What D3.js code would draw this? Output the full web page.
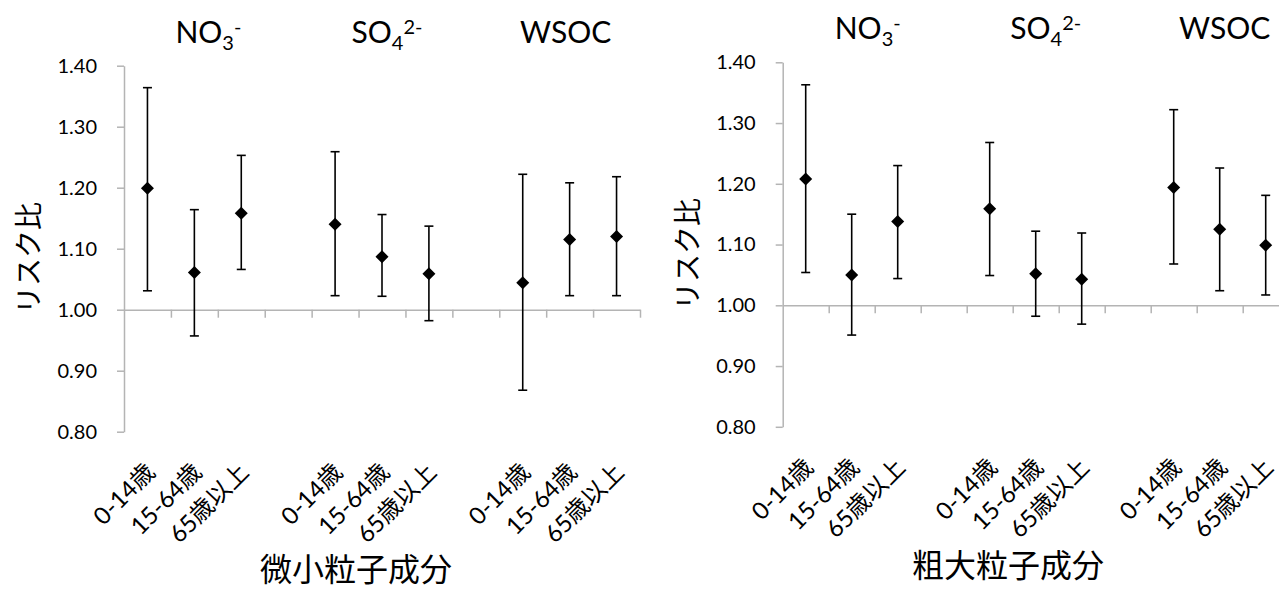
<!DOCTYPE html>
<html>
<head>
<meta charset="utf-8">
<script src="https://cdn.jsdelivr.net/npm/d3@7"></script>
<style>
	body { margin: 0; background: #ffffff; }
	.lat { font-family: Lato, "Noto Sans CJK JP", sans-serif; }
	.cjk { font-family: "Noto Sans CJK JP", sans-serif; }
</style>
</head>
<body>
<div id="chart"></div>
<script>
// categories
var groups = ["NO3", "SO4", "WSOC"];
var ageLabels = ["0-14歳", "15-64歳", "65歳以上"];
var yTicks = [0.80, 0.90, 1.00, 1.10, 1.20, 1.30, 1.40];

// fine particle components (risk ratio, lower / upper 95% CI)
var fineEst = [1.199, 1.061, 1.158, 1.140, 1.087, 1.059, 1.044, 1.115, 1.120];
var fineLow = [1.031, 0.957, 1.066, 1.023, 1.022, 0.982, 0.868, 1.023, 1.023];
var fineHigh = [1.364, 1.164, 1.253, 1.259, 1.156, 1.137, 1.222, 1.208, 1.218];

// coarse particle components
var coarseEst = [1.208, 1.050, 1.138, 1.159, 1.052, 1.043, 1.194, 1.125, 1.099];
var coarseLow = [1.054, 0.951, 1.044, 1.049, 0.982, 0.969, 1.068, 1.024, 1.017];
var coarseHigh = [1.363, 1.150, 1.230, 1.268, 1.122, 1.119, 1.322, 1.226, 1.181];

var yTitle = "リスク比";
var fineTitle = "微小粒子成分";
var coarseTitle = "粗大粒子成分";

var axisColor = "#b4b4b4";

function buildSlots() {
	// three age classes per component, one empty slot between components
	var slots = [];
	groups.forEach(function (g, gi) {
		if (gi > 0) slots.push("gap" + gi);
		ageLabels.forEach(function (a) { slots.push(g + "|" + a); });
	});
	return slots;
}

function drawGroupTitle(g, name, x, y) {
	var t = g.append("text").attr("class", "lat").attr("x", x).attr("y", y)
		.attr("text-anchor", "middle").attr("font-size", 30).attr("fill", "#000");
	if (name == "NO3") {
		t.append("tspan").text("NO");
		t.append("tspan").attr("font-size", 20).attr("dy", 7).text("3");
		t.append("tspan").attr("font-size", 20).attr("dy", -16).text("-");
	} else if (name == "SO4") {
		t.append("tspan").text("SO");
		t.append("tspan").attr("font-size", 20).attr("dy", 7).text("4");
		t.append("tspan").attr("font-size", 20).attr("dy", -16).text("2-");
	} else {
		t.text(name);
	}
}

function drawPanel(svg, p, est, low, high, title) {
	try {
		var slots = buildSlots();
		var x = d3.scaleBand().domain(slots).range([p.x0, p.x1]).paddingInner(0).paddingOuter(0);
		var xi = d3.scaleLinear().domain([0, slots.length]).range([p.x0, p.x1]);
		var y = d3.scaleLinear().domain([0.80, 1.40]).range([p.yBot, p.yTop]);
		var g = svg.append("g");

		// y axis
		var ya = g.append("g").attr("transform", "translate(" + p.x0 + ",0)")
			.call(d3.axisLeft(y).tickValues(yTicks).tickFormat(d3.format(".2f"))
				.tickSize(7).tickSizeOuter(0).tickPadding(20));
		ya.select(".domain").attr("stroke", axisColor).attr("stroke-width", 1.5);
		ya.selectAll(".tick line").attr("stroke", axisColor).attr("stroke-width", 1.5);
		ya.selectAll(".tick text").attr("class", "lat").attr("font-size", 20).attr("fill", "#000");

		// x axis at 1.00, tick marks on the category boundaries
		var xa = g.append("g").attr("transform", "translate(0," + y(1.00) + ")")
			.call(d3.axisBottom(xi).tickValues(d3.range(1, slots.length + 1))
				.tickFormat("").tickSize(8).tickSizeOuter(0));
		xa.select(".domain").attr("stroke", axisColor).attr("stroke-width", 1.5);
		xa.selectAll(".tick line").attr("stroke", axisColor).attr("stroke-width", 1.5);

		// category labels, rotated
		var keys = slots.filter(function (s) { return s.indexOf("|") > 0; });
		g.selectAll(".age").data(keys).enter().append("text")
			.attr("class", "lat age")
			.attr("transform", function (k) {
				return "translate(" + (x(k) + x.bandwidth() / 2 + 3) + "," + (p.yBot + 36) + ") rotate(-45)";
			})
			.attr("text-anchor", "end").attr("dy", "0.35em")
			.attr("font-size", 24).attr("fill", "#000")
			.text(function (k) { return k.split("|")[1]; });

		// error bars and diamond markers
		var rows = keys.map(function (k, i) {
			return { key: k, est: est[i], low: low[i], high: high[i] };
		});
		var bars = g.selectAll(".bar").data(rows).enter().append("g").attr("class", "bar")
			.attr("transform", function (d) { return "translate(" + (x(d.key) + x.bandwidth() / 2) + ",0)"; });
		bars.append("line").attr("x1", 0).attr("x2", 0)
			.attr("y1", function (d) { return y(d.low); }).attr("y2", function (d) { return y(d.high); })
			.attr("stroke", "#000").attr("stroke-width", 1.6);
		bars.append("line").attr("x1", -4.5).attr("x2", 4.5)
			.attr("y1", function (d) { return y(d.high); }).attr("y2", function (d) { return y(d.high); })
			.attr("stroke", "#000").attr("stroke-width", 1.6);
		bars.append("line").attr("x1", -4.5).attr("x2", 4.5)
			.attr("y1", function (d) { return y(d.low); }).attr("y2", function (d) { return y(d.low); })
			.attr("stroke", "#000").attr("stroke-width", 1.6);
		bars.append("path")
			.attr("transform", function (d) { return "translate(0," + y(d.est) + ")"; })
			.attr("d", "M0,-6.5L6.5,0L0,6.5L-6.5,0Z").attr("fill", "#000");

		// component titles over each group
		groups.forEach(function (name, gi) {
			var mid = name + "|" + ageLabels[1];
			drawGroupTitle(g, name, x(mid) + x.bandwidth() / 2 + p.titleDx[gi], p.titleY);
		});

		// axis titles
		g.append("text").attr("class", "cjk")
			.attr("transform", "translate(" + p.yLabelX + "," + p.yLabelY + ") rotate(-90)")
			.attr("text-anchor", "middle").attr("dy", "0.35em")
			.attr("font-size", 28).attr("fill", "#000").text(yTitle);
		g.append("text").attr("class", "cjk")
			.attr("x", p.xTitleX).attr("y", p.xTitleY)
			.attr("text-anchor", "middle").attr("font-size", 32).attr("fill", "#000")
			.text(title);
	} catch (error) {
		throw "Function :: drawPanel Error: " + error;
	}
}

var svg = d3.select("#chart").append("svg").attr("width", 1279).attr("height", 591);

drawPanel(svg, { x0: 124, x1: 640, yTop: 65.7, yBot: 431.7, titleY: 43, titleDx: [14, 5, -4],
	yLabelX: 29, yLabelY: 258, xTitleX: 356, xTitleY: 581 },
	fineEst, fineLow, fineHigh, fineTitle);
drawPanel(svg, { x0: 782.7, x1: 1288.7, yTop: 62.3, yBot: 426.8, titleY: 39, titleDx: [16, 10, 5],
	yLabelX: 688, yLabelY: 254, xTitleX: 1008, xTitleY: 577 },
	coarseEst, coarseLow, coarseHigh, coarseTitle);
</script>
</body>
</html>
